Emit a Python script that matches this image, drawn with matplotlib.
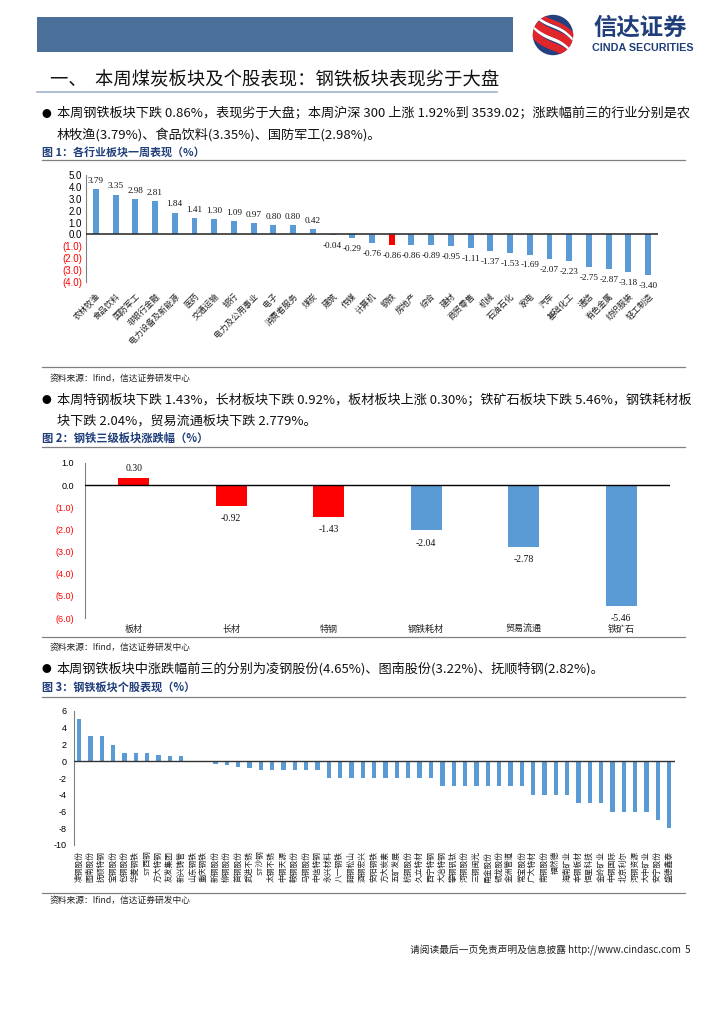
import matplotlib
matplotlib.use("Agg")
import matplotlib.pyplot as plt
from matplotlib.lines import Line2D
from matplotlib.patches import Rectangle, Circle
import numpy as np

plt.rcParams['font.family'] = ['Noto Sans CJK SC', 'DejaVu Sans']
plt.rcParams['axes.unicode_minus'] = False

# ---------------- data ----------------
ind_names = ["农林牧渔", "食品饮料", "国防军工", "非银行金融", "电力设备及新能源", "医药",
             "交通运输", "银行", "电力及公用事业", "电子", "消费者服务", "煤炭", "建筑",
             "传媒", "计算机", "钢铁", "房地产", "综合", "建材", "商贸零售", "机械",
             "石油石化", "家电", "汽车", "基础化工", "通信", "有色金属", "纺织服装", "轻工制造"]
ind_values = [3.79, 3.35, 2.98, 2.81, 1.84, 1.41, 1.30, 1.09, 0.97, 0.80, 0.80, 0.42, -0.04,
              -0.29, -0.76, -0.86, -0.86, -0.89, -0.95, -1.11, -1.37, -1.53, -1.69, -2.07,
              -2.23, -2.75, -2.87, -3.18, -3.40]
highlight_industry = "钢铁"

sub_names = ["板材", "长材", "特钢", "钢铁耗材", "贸易流通", "铁矿石"]
sub_values = [0.30, -0.92, -1.43, -2.04, -2.78, -5.46]
sub_red = ["板材", "长材", "特钢"]

stock_names = ["凌钢股份", "图南股份", "抚顺特钢", "宝钢股份", "包钢股份", "华菱钢铁", "ST西钢",
               "方大特钢", "友发集团", "新兴铸管", "山东钢铁", "重庆钢铁", "新钢股份", "柳钢股份",
               "首钢股份", "武进不锈", "ST沙钢", "太钢不锈", "中钢天源", "鞍钢股份", "马钢股份",
               "中信特钢", "永兴材料", "八一钢铁", "韶钢松山", "酒钢宏兴", "安阳钢铁", "方大炭素",
               "五矿发展", "杭钢股份", "久立特材", "西宁特钢", "大冶特钢", "攀钢钒钛", "河钢股份",
               "三钢闽光", "甬金股份", "银龙股份", "金洲管道", "常宝股份", "广大特材", "南钢股份",
               "福然德", "海南矿业", "本钢板材", "恒星科技", "金岭矿业", "中钢国际", "北京利尔",
               "河钢资源", "大中矿业", "安宁股份", "盛德鑫泰"]
stock_values = [5.0, 3.0, 3.0, 2.0, 1.0, 1.0, 1.0, 0.8, 0.6, 0.6, 0.0, 0.0, -0.3, -0.4,
                -0.7, -0.8, -1.0, -1.0, -1.0, -1.0, -1.0, -1.0, -2.0, -2.0, -2.0, -2.0,
                -2.0, -2.0, -2.0, -2.0, -2.0, -2.0, -3.0, -3.0, -3.0, -3.0, -3.0, -3.0,
                -3.0, -3.0, -4.0, -4.0, -4.0, -4.0, -5.0, -5.0, -5.0, -6.0, -6.0, -6.0,
                -6.0, -7.0, -8.0]

ticks1 = [5.0, 4.0, 3.0, 2.0, 1.0, 0.0, -1.0, -2.0, -3.0, -4.0]
ticks2 = [1.0, 0.0, -1.0, -2.0, -3.0, -4.0, -5.0, -6.0]
ticks3 = [6, 4, 2, 0, -2, -4, -6, -8, -10]

BLUE = "#5B9BD5"
RED = "#FF0000"
NAVY = "#1F3E7A"
GRAY = "#808080"

W, H = 724, 1024
fig = plt.figure(figsize=(W / 100, H / 100), dpi=100)


def fx(x):
    return x / W


def fy(y):
    return 1 - y / H


def add_ax(x0, y0, x1, y1):
    return fig.add_axes([fx(x0), fy(y1), (x1 - x0) / W, (y1 - y0) / H])


def hline(y, x0, x1, color=GRAY, lw=0.9):
    fig.add_artist(Line2D([fx(x0), fx(x1)], [fy(y), fy(y)], transform=fig.transFigure,
                          color=color, lw=lw))


renderer = fig.canvas.get_renderer()


def fit_text(x, y, s, width_px, size=9.3, **kw):
    t = fig.text(fx(x), fy(y), s, va='center', ha='left', fontsize=size, **kw)
    w = t.get_window_extent(renderer=renderer).width
    if w > 0:
        t.set_fontsize(size * width_px / w)
    return t


# ---------------- header ----------------
fig.add_artist(Rectangle((fx(37), fy(52)), (513 - 37) / W, 35 / H, transform=fig.transFigure,
                         facecolor="#4A6F98", edgecolor="none"))
# logo
logo = fig.add_axes([fx(528), fy(56), 50 / W, 42 / H])
logo.set_xlim(-1.2, 1.2)
logo.set_ylim(-1.0, 1.0)
logo.set_aspect('equal')
logo.axis('off')
circ = Circle((0, 0), 0.97, facecolor="#25407F", edgecolor="none")
logo.add_patch(circ)
for off, col, lw in [(-0.55, "#E0252B", 5.5), (-0.2, "white", 2.5), (0.08, "#E0252B", 5.5),
                     (0.42, "white", 2.0), (0.62, "#E0252B", 3)]:
    xs = np.linspace(-1.2, 1.2, 50)
    ln, = logo.plot(xs, -0.9 * xs + off + 0.25 * np.sin(xs * 2.0), color=col, lw=lw,
                    solid_capstyle='butt')
    ln.set_clip_path(circ)
fit_text(593, 28, "信达证券", 94, size=14, color="#1F3E7A", fontweight='bold')
fit_text(592, 48, "CINDA SECURITIES", 102, size=6.2, color="#1F3E7A", fontweight='bold',
         family='Liberation Sans')

# section title
fit_text(50, 80, "一、  本周煤炭板块及个股表现：钢铁板块表现劣于大盘", 447, size=12,
         color="#111111", fontweight='medium')
hline(92, 37, 497, color="#9FB4CC", lw=1.2)

# bullet paragraph 1
fig.text(fx(41), fy(114), "●", fontsize=7, va='center', color='black')
t = fit_text(57, 114, "本周钢铁板块下跌 0.86%，表现劣于大盘；本周沪深 300 上涨 1.92%到 3539.02；"
             "涨跌幅前三的行业分别是农", 633, color='#111111')
body = t.get_fontsize()
fig.text(fx(57), fy(135), "林牧渔(3.79%)、食品饮料(3.35%)、国防军工(2.98%)。",
         fontsize=body, va='center', color='#111111')

# caption 1
fit_text(42, 152, "图 1：各行业板块一周表现（%）", 163, size=8, color=NAVY, fontweight='bold')
hline(160, 42, 685)

# ---------------- chart 1 ----------------
ax1 = add_ax(86, 175, 658, 282)
x1 = np.arange(len(ind_names))
c1 = [RED if n == highlight_industry else BLUE for n in ind_names]
ax1.bar(x1, ind_values, width=0.3, color=c1, zorder=2)
ax1.set_xlim(-0.5, len(ind_names) - 0.5)
ax1.set_ylim(-4, 5)
ax1.axhline(0, color='#333333', lw=1.2, zorder=3)
ax1.set_yticks(ticks1)
ax1.set_yticklabels([f"{v:.1f}" if v >= 0 else f"({abs(v):.1f})" for v in ticks1],
                    family='Liberation Sans', fontsize=7)
for lab, v in zip(ax1.get_yticklabels(), ticks1):
    lab.set_color('black' if v >= 0 else RED)
ax1.set_xticks(x1)
ax1.set_xticklabels(ind_names, rotation=45, ha='right', rotation_mode='anchor', fontsize=6,
                    color='#222222')
ax1.tick_params(axis='both', length=0)
ax1.tick_params(axis='x', pad=7)
ax1.tick_params(axis='y', pad=3)
for s in ['top', 'right', 'bottom']:
    ax1.spines[s].set_visible(False)
ax1.spines['left'].set_color(GRAY)
ax1.spines['left'].set_linewidth(0.8)
for xi, v in zip(x1, ind_values):
    ax1.annotate(f"{v:.2f}", (xi, v), xytext=(0, 3 if v >= 0 else -5),
                 textcoords='offset points', ha='center', va='bottom' if v >= 0 else 'top',
                 fontsize=6.6, family='Liberation Serif', color='#111111')

hline(367, 42, 685)
fig.text(fx(50), fy(378), "资料来源：Ifind，信达证券研发中心", fontsize=6.3, style='italic',
         va='center', color='#222222')

# bullet paragraph 2
fig.text(fx(41), fy(400), "●", fontsize=7, va='center', color='black')
fit_text(57, 400, "本周特钢板块下跌 1.43%，长材板块下跌 0.92%，板材板块上涨 0.30%；"
         "铁矿石板块下跌 5.46%，钢铁耗材板", 633, color='#111111')
fig.text(fx(57), fy(421), "块下跌 2.04%，贸易流通板块下跌 2.779%。", fontsize=body,
         va='center', color='#111111')

fit_text(42, 438, "图 2：钢铁三级板块涨跌幅（%）", 167, size=8, color=NAVY, fontweight='bold')
hline(447, 42, 685)

# ---------------- chart 2 ----------------
ax2 = add_ax(85, 463, 670, 618)
x2 = np.arange(len(sub_names))
c2 = [RED if n in sub_red else BLUE for n in sub_names]
ax2.bar(x2, sub_values, width=0.32, color=c2, zorder=2)
ax2.set_xlim(-0.5, len(sub_names) - 0.5)
ax2.set_ylim(-6, 1)
ax2.axhline(0, color='black', lw=1.0, zorder=3)
ax2.set_yticks(ticks2)
ax2.set_yticklabels([f"{v:.1f}" if v >= 0 else f"({abs(v):.1f})" for v in ticks2],
                    family='Liberation Sans', fontsize=6.5)
for lab, v in zip(ax2.get_yticklabels(), ticks2):
    lab.set_color('black' if v >= 0 else RED)
ax2.set_xticks(x2)
ax2.set_xticklabels(sub_names, fontsize=6.5, color='#222222')
ax2.tick_params(axis='both', length=0)
ax2.tick_params(axis='x', pad=5)
ax2.tick_params(axis='y', pad=8)
for s in ['top', 'right', 'bottom']:
    ax2.spines[s].set_visible(False)
ax2.spines['left'].set_color(GRAY)
ax2.spines['left'].set_linewidth(0.8)
for xi, v in zip(x2, sub_values):
    ax2.annotate(f"{v:.2f}", (xi, v), xytext=(0, 4 if v >= 0 else -6),
                 textcoords='offset points', ha='center', va='bottom' if v >= 0 else 'top',
                 fontsize=7, family='Liberation Serif', color='#111111')

hline(637, 42, 685)
fig.text(fx(50), fy(647), "资料来源：Ifind，信达证券研发中心", fontsize=6.3, style='italic',
         va='center', color='#222222')

# bullet paragraph 3
fig.text(fx(41), fy(669), "●", fontsize=7, va='center', color='black')
fig.text(fx(57), fy(669), "本周钢铁板块中涨跌幅前三的分别为凌钢股份(4.65%)、图南股份(3.22%)、"
         "抚顺特钢(2.82%)。", fontsize=body, va='center', color='#111111')

fit_text(42, 688, "图 3：钢铁板块个股表现（%）", 153, size=8, color=NAVY, fontweight='bold')
hline(697, 42, 685)

# ---------------- chart 3 ----------------
ax3 = add_ax(73.5, 711, 675, 845)
x3 = np.arange(len(stock_names))
ax3.bar(x3, stock_values, width=0.38, color=BLUE, zorder=2)
ax3.set_xlim(-0.5, len(stock_names) - 0.5)
ax3.set_ylim(-10, 6)
ax3.axhline(0, color='#333333', lw=1.0, zorder=3)
ax3.set_yticks(ticks3)
ax3.set_yticklabels([str(v) for v in ticks3], family='Liberation Sans', fontsize=6.5)
ax3.set_xticks(x3)
ax3.set_xticklabels(stock_names, rotation=90, ha='center', va='top', fontsize=5.6,
                    color='#222222')
ax3.tick_params(axis='both', length=0)
ax3.tick_params(axis='x', pad=4)
ax3.tick_params(axis='y', pad=5)
for s in ['top', 'right', 'bottom']:
    ax3.spines[s].set_visible(False)
ax3.spines['left'].set_color(GRAY)
ax3.spines['left'].set_linewidth(0.8)

hline(893, 42, 685)
fig.text(fx(50), fy(900), "资料来源：Ifind，信达证券研发中心", fontsize=6.3, style='italic',
         va='center', color='#222222')

# footer
fig.text(fx(690), fy(950), "请阅读最后一页免责声明及信息披露 http://www.cindasc.com  5",
         fontsize=7, ha='right', va='center', color='#222222')

fig.savefig("out.png", dpi=100, facecolor='white')
